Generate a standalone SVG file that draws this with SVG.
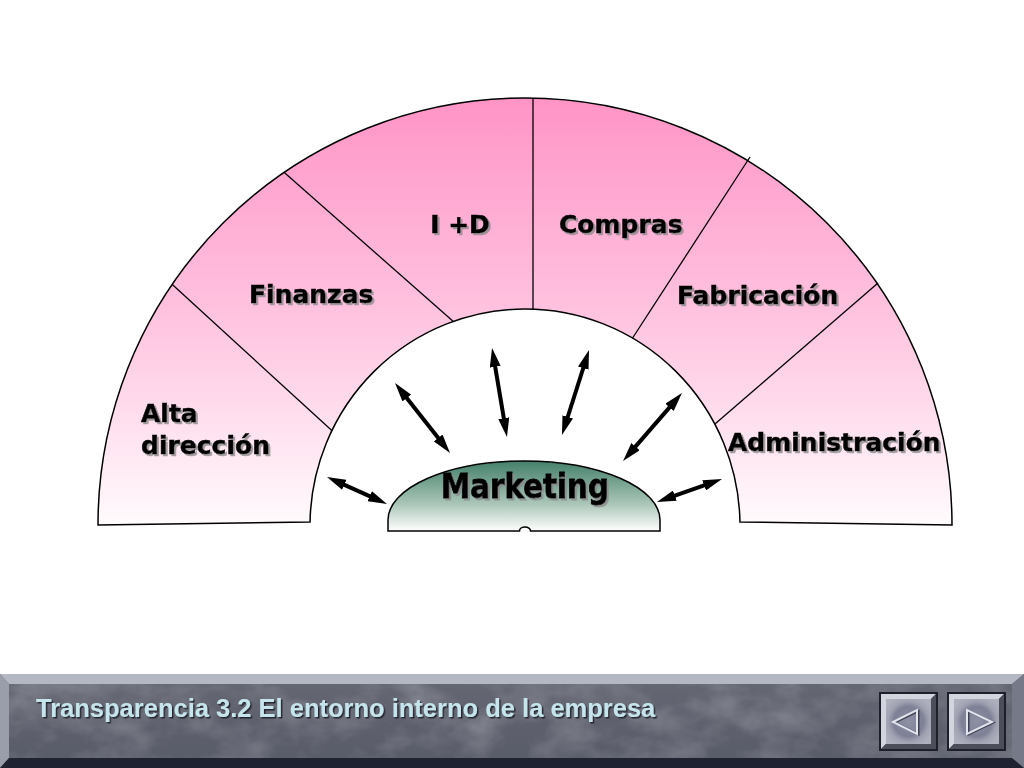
<svg xmlns="http://www.w3.org/2000/svg" width="1024" height="768" viewBox="0 0 1024 768">
<defs>
<style>
.lbl{font-family:"DejaVu Sans","Verdana",sans-serif;font-weight:bold;font-size:25px;fill:#000;stroke:#000;stroke-width:0.5;filter:url(#tshadow)}
.div{stroke:#000;stroke-width:1.3;fill:none}
.arrow{stroke:#000;stroke-width:4;fill:none;marker-start:url(#ah);marker-end:url(#ah)}
.title{font-family:"Liberation Sans",Arial,sans-serif;font-weight:bold;font-size:25.5px;fill:#c6e4ec}
</style>
<linearGradient id="pink" gradientUnits="userSpaceOnUse" x1="0" y1="98" x2="0" y2="525">
<stop offset="0" stop-color="#ff94c6"/>
<stop offset="0.5" stop-color="#ffc2df"/>
<stop offset="1" stop-color="#fffbfd"/>
</linearGradient>
<linearGradient id="green" x1="0" y1="0" x2="0" y2="1">
<stop offset="0" stop-color="#44806a"/>
<stop offset="0.6" stop-color="#a8c4b6"/>
<stop offset="1" stop-color="#ffffff"/>
</linearGradient>
<linearGradient id="barg" x1="0" y1="0" x2="0" y2="1">
<stop offset="0" stop-color="#666974"/>
<stop offset="0.5" stop-color="#5e616d"/>
<stop offset="1" stop-color="#585b68"/>
</linearGradient>
<radialGradient id="btnFace" cx="0.5" cy="0.5" r="0.6">
<stop offset="0" stop-color="#8e90a4"/>
<stop offset="0.55" stop-color="#7e8196"/>
<stop offset="0.75" stop-color="#a0a2b2"/>
<stop offset="1" stop-color="#aeb0be"/>
</radialGradient>
<filter id="tshadow" x="-10%" y="-20%" width="130%" height="150%">
<feDropShadow dx="2" dy="2" stdDeviation="0.6" flood-color="#8a8a8a" flood-opacity="0.8"/>
</filter>
<filter id="dshadow" x="-5%" y="-20%" width="110%" height="150%">
<feDropShadow dx="1.5" dy="1.5" stdDeviation="0.5" flood-color="#1c1e26" flood-opacity="0.9"/>
</filter>
<filter id="marble" x="0" y="0" width="100%" height="100%">
<feTurbulence type="fractalNoise" baseFrequency="0.02 0.03" numOctaves="4" seed="7" result="n"/>
<feColorMatrix in="n" type="matrix" values="0 0 0 0 0.86  0 0 0 0 0.87  0 0 0 0 0.92  0 0 0 1.1 -0.42"/>
</filter>
<marker id="ah" viewBox="0 0 19 11" markerWidth="19" markerHeight="11" refX="9" refY="5.5" markerUnits="userSpaceOnUse" orient="auto-start-reverse">
<path d="M0,0 L19,5.5 L0,11 Z" fill="#000"/>
</marker>
</defs>
<rect width="1024" height="768" fill="#fff"/>

<g id="ring">
<path d="M98,525 A427,427 0 0 1 525,98 A427,427 0 0 1 952,525 L739.96,522 A215,217 0 0 0 525,309 A215,217 0 0 0 310.04,522 Z" fill="url(#pink)"/>
<line class="div" x1="172.3" y1="284.6" x2="340" y2="438"/>
<line class="div" x1="283.7" y1="172" x2="463" y2="330"/>
<line class="div" x1="533" y1="98.1" x2="533" y2="325"/>
<line class="div" x1="750" y1="157" x2="627.4" y2="346"/>
<line class="div" x1="878" y1="283" x2="708" y2="430"/>
<path d="M310.04,522 A215,217 0 0 1 525,309 A215,217 0 0 1 739.96,522 Z" fill="#fff"/>
<path d="M98,525 A427,427 0 0 1 525,98 A427,427 0 0 1 952,525 L739.96,522 A215,217 0 0 0 525,309 A215,217 0 0 0 310.04,522 Z" fill="none" stroke="#000" stroke-width="1.5"/>
</g>

<g id="node-alta"><text class="lbl" x="141" y="422">Alta</text><text class="lbl" x="141" y="454">dirección</text></g>
<g id="node-finanzas"><text class="lbl" x="249" y="303">Finanzas</text></g>
<g id="node-id"><text class="lbl" x="460" y="233" text-anchor="middle">I +D</text></g>
<g id="node-compras"><text class="lbl" x="559" y="233">Compras</text></g>
<g id="node-fabricacion"><text class="lbl" x="677" y="304">Fabricación</text></g>
<g id="node-administracion"><text class="lbl" x="728" y="451">Administración</text></g>

<g id="connectors">
<line class="arrow" x1="336.1" y1="481.1" x2="377.9" y2="499.9"/>
<line class="arrow" x1="401.2" y1="390.9" x2="443.8" y2="445.1"/>
<line class="arrow" x1="493.7" y1="357.9" x2="505.3" y2="427.1"/>
<line class="arrow" x1="586.0" y1="359.5" x2="565.0" y2="425.5"/>
<line class="arrow" x1="675.4" y1="400.6" x2="629.6" y2="453.4"/>
<line class="arrow" x1="712.6" y1="482.3" x2="666.4" y2="498.7"/>
</g>

<g id="node-marketing">
<path d="M388,531 L388,520 A136,59 0 0 1 524,461 A136,59 0 0 1 660,520 L660,531 L530.5,531 A5.5,4 0 0 0 519.5,531 Z" fill="url(#green)" stroke="#000" stroke-width="1.5"/>
<text x="525" y="498" text-anchor="middle" textLength="168" lengthAdjust="spacingAndGlyphs" style="font-family:'DejaVu Sans',Verdana,sans-serif;font-weight:bold;font-size:33px;fill:#000;stroke:#000;stroke-width:0.8;filter:url(#tshadow)">Marketing</text>
</g>

<g id="footer">
<rect x="0" y="674" width="1024" height="94" fill="url(#barg)"/>
<rect x="0" y="674" width="1024" height="94" filter="url(#marble)" opacity="0.4"/>
<polygon points="0,674 1024,674 1012,684 9,684" fill="#b4b8c3"/>
<polygon points="0,674 9,684 9,758 0,768" fill="#9a9eaa"/>
<polygon points="1024,674 1012,684 1012,758 1024,768" fill="#767a88"/>
<polygon points="9,758 1012,758 1024,768 0,768" fill="#1f2230"/>
<text class="title" x="36" y="717" filter="url(#dshadow)">Transparencia 3.2 El entorno interno de la empresa</text>
</g>

<g id="btn-prev">
<rect x="879" y="692" width="59" height="59" fill="#1e1f28"/>
<polygon points="881,694 936,694 931,699 886,699 886,744 881,749" fill="#d2d4de"/>
<polygon points="936,694 936,749 881,749 886,744 931,744 931,699" fill="#4c4e5a"/>
<rect x="886" y="699" width="45" height="45" fill="url(#btnFace)"/>
<polygon points="894.5,722.5 918.5,711 918.5,734.5" fill="none" stroke="#3e4050" stroke-width="2"/>
<polygon points="893,722 917,710 917,734" fill="none" stroke="#e2e4ee" stroke-width="2"/>
</g>
<g id="btn-next">
<rect x="947" y="692" width="59" height="59" fill="#1e1f28"/>
<polygon points="949,694 1004,694 999,699 954,699 954,744 949,749" fill="#d2d4de"/>
<polygon points="1004,694 1004,749 949,749 954,744 999,744 999,699" fill="#4c4e5a"/>
<rect x="954" y="699" width="45" height="45" fill="url(#btnFace)"/>
<polygon points="993.5,722.5 968.5,711 968.5,734.5" fill="none" stroke="#3e4050" stroke-width="2"/>
<polygon points="992,722 967,710 967,734" fill="none" stroke="#e2e4ee" stroke-width="2"/>
</g>
</svg>
